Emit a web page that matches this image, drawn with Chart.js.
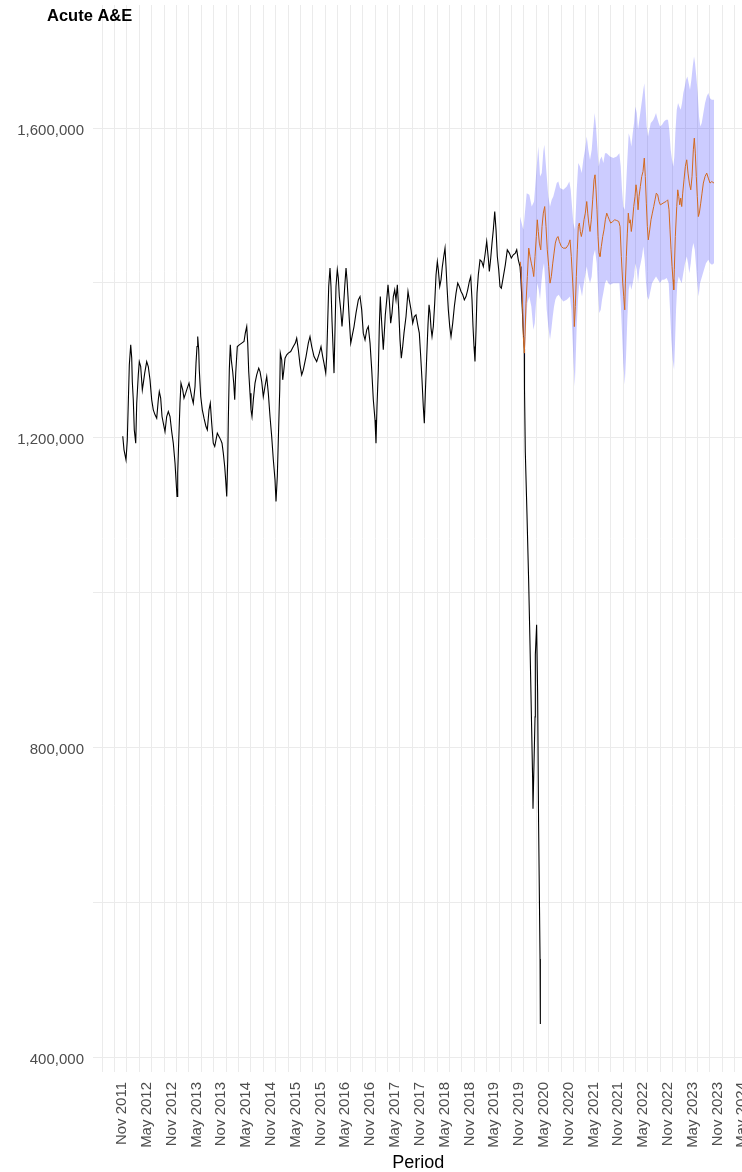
<!DOCTYPE html>
<html>
<head>
<meta charset="utf-8">
<title>Acute A&amp;E</title>
<script src="https://cdn.jsdelivr.net/npm/chart.js@4"></script>
<style>
  html, body { margin: 0; padding: 0; overflow: hidden; background: #ffffff; }
  #wrap { width: 780px; height: 1172px; }
</style>
</head>
<body>
<div id="wrap"><canvas id="chart" width="780" height="1172"></canvas></div>
<script>
// ---- Text -------------------------------------------------------------
const chartTitle = 'Acute A&E';
const xAxisTitle = 'Period';

// Labelled x ticks (every six months); unlabelled grid lines fall halfway between.
const tickLabels = [
  'Nov 2011', 'May 2012', 'Nov 2012', 'May 2013', 'Nov 2013', 'May 2014', 'Nov 2014',
  'May 2015', 'Nov 2015', 'May 2016', 'Nov 2016', 'May 2017', 'Nov 2017', 'May 2018',
  'Nov 2018', 'May 2019', 'Nov 2019', 'May 2020', 'Nov 2020', 'May 2021', 'Nov 2021',
  'May 2022', 'Nov 2022', 'May 2023', 'Nov 2023', 'May 2024'
];
const yLabelledTicks = [400000, 800000, 1200000, 1600000];
const yGridStep = 200000;

// ---- Data: [time in decimal years, attendances] -----------------------
const actual = [
  [2012.000,1202000],[2012.025,1184500],[2012.065,1171600],[2012.091,1197400],[2012.111,1244800],[2012.132,1294300],
  [2012.160,1320100],[2012.180,1303300],[2012.192,1272700],[2012.212,1249100],[2012.232,1210300],[2012.261,1193100],
  [2012.281,1244800],[2012.313,1281400],[2012.333,1298500],[2012.361,1292100],[2012.394,1262000],[2012.414,1270600],
  [2012.442,1283600],[2012.482,1298500],[2012.514,1292100],[2012.549,1274900],[2012.583,1249100],[2012.615,1236200],
  [2012.650,1229700],[2012.684,1225400],[2012.716,1249100],[2012.736,1259800],[2012.764,1251300],[2012.791,1227500],
  [2012.817,1219000],[2012.851,1208100],[2012.885,1227500],[2012.918,1234000],[2012.952,1227500],[2012.986,1208100],
  [2013.018,1193100],[2013.053,1167300],[2013.073,1145700],[2013.093,1124200],[2013.107,1154400],[2013.127,1195200],
  [2013.153,1244800],[2013.173,1270600],[2013.208,1262000],[2013.234,1251300],[2013.268,1257700],[2013.300,1264200],
  [2013.335,1270600],[2013.355,1264200],[2013.389,1253300],[2013.421,1244800],[2013.456,1266300],[2013.476,1296500],
  [2013.496,1317900],[2013.510,1330800],[2013.530,1313700],[2013.542,1287800],[2013.571,1253300],[2013.603,1236200],
  [2013.637,1225400],[2013.677,1214600],[2013.704,1210300],[2013.738,1236200],[2013.764,1244800],[2013.792,1219000],
  [2013.824,1193100],[2013.853,1188800],[2013.879,1197400],[2013.905,1206100],[2013.939,1201700],[2013.974,1197400],
  [2014.000,1193100],[2014.026,1180200],[2014.054,1162900],[2014.074,1145700],[2014.095,1124200],[2014.115,1171600],
  [2014.127,1223200],[2014.147,1287800],[2014.167,1320100],[2014.187,1300700],[2014.215,1285600],[2014.236,1270600],
  [2014.256,1249100],[2014.276,1283600],[2014.308,1317900],[2014.348,1320100],[2014.397,1322300],[2014.443,1324400],
  [2014.469,1335200],[2014.498,1343700],[2014.518,1322300],[2014.538,1285600],[2014.564,1257700],[2014.584,1236200],
  [2014.604,1227500],[2014.631,1249100],[2014.665,1270600],[2014.699,1281400],[2014.740,1290000],[2014.766,1285600],
  [2014.800,1272700],[2014.832,1253300],[2014.866,1266300],[2014.901,1279200],[2014.933,1257700],[2014.967,1227500],
  [2015.001,1201700],[2015.034,1171600],[2015.068,1145700],[2015.088,1117700],[2015.114,1150000],[2015.142,1214600],
  [2015.163,1262000],[2015.175,1309400],[2015.203,1300700],[2015.223,1274900],[2015.243,1285600],[2015.270,1302900],
  [2015.304,1307200],[2015.336,1309400],[2015.384,1311500],[2015.437,1317900],[2015.477,1322300],[2015.505,1328800],
  [2015.538,1313700],[2015.572,1294300],[2015.606,1281400],[2015.638,1287800],[2015.693,1305000],[2015.739,1322300],
  [2015.773,1330800],[2015.808,1317900],[2015.854,1305000],[2015.908,1298500],[2015.961,1309400],[2015.995,1317900],
  [2016.029,1305000],[2016.055,1296500],[2016.090,1283600],[2016.110,1305000],[2016.130,1350200],[2016.150,1395400],
  [2016.176,1419200],[2016.196,1395400],[2016.217,1350200],[2016.243,1307200],[2016.257,1283600],[2016.277,1339500],
  [2016.297,1395400],[2016.323,1417000],[2016.344,1406300],[2016.364,1382500],[2016.392,1365300],[2016.418,1343700],
  [2016.444,1365300],[2016.473,1395400],[2016.499,1419200],[2016.519,1404100],[2016.539,1382500],[2016.565,1352400],
  [2016.594,1322300],[2016.620,1330800],[2016.660,1343700],[2016.700,1361100],[2016.747,1378200],[2016.781,1382500],
  [2016.815,1365300],[2016.847,1335200],[2016.882,1326600],[2016.916,1339500],[2016.948,1343700],[2016.983,1322300],
  [2017.017,1287800],[2017.049,1249100],[2017.083,1223200],[2017.103,1193100],[2017.123,1240400],[2017.150,1287800],
  [2017.170,1343700],[2017.190,1382500],[2017.210,1356700],[2017.230,1335200],[2017.250,1313700],[2017.270,1335200],
  [2017.291,1358900],[2017.319,1378200],[2017.345,1397600],[2017.371,1378200],[2017.399,1348100],[2017.426,1361100],
  [2017.452,1382500],[2017.480,1391100],[2017.506,1378200],[2017.533,1397600],[2017.561,1365300],[2017.587,1326600],
  [2017.613,1302900],[2017.641,1317900],[2017.667,1335200],[2017.708,1356700],[2017.748,1389000],[2017.774,1378200],
  [2017.809,1365300],[2017.843,1348100],[2017.875,1356700],[2017.909,1358900],[2017.944,1345900],[2017.976,1335200],
  [2018.004,1305000],[2018.030,1274900],[2018.056,1240400],[2018.077,1219000],[2018.097,1257700],[2018.125,1305000],
  [2018.151,1345900],[2018.172,1371800],[2018.192,1361100],[2018.212,1341700],[2018.232,1330800],[2018.258,1343700],
  [2018.286,1374000],[2018.313,1410500],[2018.339,1427700],[2018.359,1417000],[2018.387,1395400],[2018.413,1404100],
  [2018.440,1421200],[2018.468,1434200],[2018.494,1445000],[2018.514,1421200],[2018.534,1395400],[2018.561,1365300],
  [2018.589,1343700],[2018.615,1330800],[2018.649,1348100],[2018.682,1369600],[2018.716,1386900],[2018.750,1399800],
  [2018.782,1395400],[2018.817,1389000],[2018.851,1384700],[2018.883,1378200],[2018.917,1382500],[2018.951,1391100],
  [2018.984,1401900],[2019.012,1408300],[2019.038,1378200],[2019.058,1343700],[2019.078,1317900],[2019.098,1298500],
  [2019.119,1339500],[2019.139,1386900],[2019.165,1410500],[2019.199,1429900],[2019.234,1427700],[2019.266,1421200],
  [2019.300,1436400],[2019.334,1453500],[2019.366,1432100],[2019.387,1414800],[2019.415,1432100],[2019.441,1451500],
  [2019.467,1468600],[2019.496,1492300],[2019.522,1468600],[2019.548,1434200],[2019.576,1417000],[2019.602,1395400],
  [2019.629,1393300],[2019.669,1408300],[2019.709,1423400],[2019.749,1442800],[2019.790,1438600],[2019.830,1432100],
  [2019.870,1436400],[2019.911,1438600],[2019.939,1442800],[2019.971,1429900],[2020.005,1421200],[2020.025,1404100],
  [2020.040,1382500],[2020.052,1365300],[2020.066,1343700],[2020.092,1314600],[2020.096,1262400],[2020.112,1181300],
  [2020.146,1100300],[2020.179,1016300],[2020.207,932200],[2020.233,846600],[2020.259,761500],[2020.267,720900],
  [2020.308,839600],[2020.314,919700],[2020.340,958500],[2020.360,871500],[2020.380,700700],[2020.409,526900],
  [2020.415,442900]
];

const forecast = [
  [2020.011,1427300],[2020.040,1399800],[2020.060,1365300],[2020.072,1330800],[2020.092,1309400],[2020.106,1330800],
  [2020.126,1374000],[2020.153,1408300],[2020.181,1445000],[2020.207,1434200],[2020.233,1425600],[2020.262,1417000],
  [2020.282,1408300],[2020.308,1434200],[2020.334,1460000],[2020.354,1481600],[2020.374,1466500],[2020.395,1451500],
  [2020.423,1442800],[2020.449,1472900],[2020.475,1490200],[2020.503,1498700],[2020.529,1472900],[2020.555,1442800],
  [2020.584,1421200],[2020.610,1399800],[2020.636,1408300],[2020.665,1425600],[2020.691,1438600],[2020.717,1451500],
  [2020.745,1457900],[2020.771,1460000],[2020.798,1453500],[2020.838,1447100],[2020.878,1445000],[2020.933,1445000],
  [2020.979,1449300],[2021.013,1455700],[2021.039,1434200],[2021.068,1399800],[2021.088,1374000],[2021.100,1343700],
  [2021.120,1369600],[2021.140,1408300],[2021.160,1442800],[2021.180,1472900],[2021.200,1477300],[2021.221,1466500],
  [2021.241,1460000],[2021.269,1468600],[2021.295,1481600],[2021.321,1490200],[2021.350,1505200],[2021.370,1490200],
  [2021.390,1477300],[2021.416,1466500],[2021.442,1481600],[2021.470,1507400],[2021.497,1533200],[2021.517,1539700],
  [2021.537,1520300],[2021.557,1494500],[2021.577,1460000],[2021.597,1438600],[2021.617,1434200],[2021.644,1447100],
  [2021.672,1460000],[2021.698,1468600],[2021.725,1481600],[2021.753,1490200],[2021.779,1485800],[2021.805,1481600],
  [2021.833,1477300],[2021.874,1479400],[2021.914,1481600],[2021.954,1480700],[2021.995,1479400],[2022.021,1472900],
  [2022.047,1434200],[2022.075,1399800],[2022.096,1382500],[2022.116,1365300],[2022.128,1399800],[2022.148,1434200],
  [2022.168,1464400],[2022.188,1490200],[2022.208,1477300],[2022.228,1481600],[2022.248,1466500],[2022.269,1477300],
  [2022.297,1498700],[2022.323,1511700],[2022.343,1526800],[2022.364,1516000],[2022.384,1494500],[2022.404,1511700],
  [2022.430,1524600],[2022.458,1537500],[2022.484,1543900],[2022.510,1561300],[2022.530,1537500],[2022.551,1503100],
  [2022.571,1472900],[2022.591,1455700],[2022.619,1468600],[2022.645,1481600],[2022.672,1490200],[2022.700,1498700],
  [2022.726,1507400],[2022.752,1516000],[2022.780,1513900],[2022.807,1505200],[2022.833,1500900],[2022.867,1502200],
  [2022.908,1503900],[2022.948,1505200],[2022.982,1507400],[2023.008,1494500],[2023.028,1468600],[2023.049,1442800],
  [2023.069,1421200],[2023.089,1404100],[2023.103,1391100],[2023.115,1417000],[2023.135,1460000],[2023.164,1498700],
  [2023.184,1520300],[2023.204,1511700],[2023.224,1500900],[2023.244,1509600],[2023.264,1498700],[2023.284,1516000],
  [2023.310,1533200],[2023.337,1550400],[2023.365,1559100],[2023.391,1541900],[2023.417,1529000],[2023.446,1520300],
  [2023.472,1537500],[2023.498,1572000],[2023.518,1587100],[2023.538,1567700],[2023.558,1537500],[2023.578,1511700],
  [2023.599,1485800],[2023.619,1490200],[2023.647,1503100],[2023.673,1516000],[2023.700,1529000],[2023.734,1537500],
  [2023.768,1541900],[2023.800,1535400],[2023.834,1529000],[2023.869,1531000],[2023.915,1529000]
];

const intervalUpper = [
  [2020.005,1485800],[2020.072,1468600],[2020.140,1516000],[2020.193,1513900],[2020.241,1498700],[2020.288,1505200],
  [2020.342,1550400],[2020.374,1576200],[2020.409,1537500],[2020.443,1541900],[2020.475,1569800],[2020.495,1578400],
  [2020.529,1550400],[2020.576,1511700],[2020.610,1498700],[2020.644,1507400],[2020.676,1511700],[2020.711,1520300],
  [2020.745,1529000],[2020.777,1531000],[2020.812,1522500],[2020.878,1520300],[2020.947,1524600],[2020.999,1531000],
  [2021.027,1520300],[2021.080,1477300],[2021.114,1468600],[2021.148,1520300],[2021.180,1554800],[2021.214,1550400],
  [2021.248,1541900],[2021.281,1559100],[2021.315,1572000],[2021.350,1589200],[2021.382,1572000],[2021.416,1559100],
  [2021.450,1572000],[2021.481,1597800],[2021.510,1619400],[2021.537,1602100],[2021.563,1576200],[2021.592,1550400],
  [2021.617,1559100],[2021.651,1563300],[2021.684,1554800],[2021.718,1567700],[2021.753,1567700],[2021.819,1563300],
  [2021.886,1561300],[2021.954,1563300],[2022.007,1567700],[2022.035,1550400],[2022.061,1520300],[2022.087,1498700],
  [2022.116,1494500],[2022.142,1524600],[2022.168,1559100],[2022.196,1593500],[2022.223,1587100],[2022.248,1576200],
  [2022.277,1593500],[2022.303,1606500],[2022.329,1627900],[2022.358,1619400],[2022.384,1597800],[2022.410,1610700],
  [2022.437,1623600],[2022.464,1636600],[2022.490,1649500],[2022.510,1658100],[2022.530,1636600],[2022.558,1602100],
  [2022.585,1589200],[2022.611,1597800],[2022.640,1606500],[2022.666,1608500],[2022.692,1610700],[2022.720,1615000],
  [2022.746,1619400],[2022.772,1612900],[2022.800,1606500],[2022.827,1602100],[2022.867,1604300],[2022.908,1608500],
  [2022.948,1610700],[2022.988,1610700],[2023.014,1597800],[2023.042,1572000],[2023.069,1559100],[2023.095,1550400],
  [2023.115,1563300],[2023.135,1593500],[2023.164,1623600],[2023.190,1632300],[2023.216,1627900],[2023.244,1623600],
  [2023.270,1632300],[2023.296,1645200],[2023.325,1653700],[2023.351,1662400],[2023.377,1666600],[2023.405,1658100],
  [2023.431,1649500],[2023.458,1662400],[2023.486,1679600],[2023.512,1692500],[2023.532,1684000],[2023.558,1666600],
  [2023.586,1645200],[2023.613,1615000],[2023.639,1602100],[2023.667,1606500],[2023.700,1619400],[2023.734,1632300],
  [2023.768,1640800],[2023.800,1645200],[2023.834,1638700],[2023.869,1636600],[2023.915,1636600]
];

const intervalLower = [
  [2020.005,1404100],[2020.040,1374000],[2020.072,1330800],[2020.100,1300000],[2020.126,1343700],[2020.153,1374000],
  [2020.193,1382500],[2020.233,1369600],[2020.274,1339500],[2020.302,1348100],[2020.328,1374000],[2020.354,1399800],
  [2020.382,1391100],[2020.409,1378200],[2020.435,1399800],[2020.463,1417000],[2020.489,1425600],[2020.515,1399800],
  [2020.543,1365300],[2020.576,1343700],[2020.610,1326600],[2020.636,1339500],[2020.665,1356700],[2020.691,1369600],
  [2020.717,1378200],[2020.745,1382500],[2020.785,1384700],[2020.826,1380400],[2020.878,1376000],[2020.947,1378200],
  [2021.013,1382500],[2021.039,1365300],[2021.068,1322300],[2021.088,1292100],[2021.109,1266300],[2021.129,1305000],
  [2021.148,1343700],[2021.174,1378200],[2021.200,1399800],[2021.229,1391100],[2021.255,1382500],[2021.281,1395400],
  [2021.315,1408300],[2021.350,1421200],[2021.382,1408300],[2021.416,1399800],[2021.450,1408300],[2021.481,1434200],
  [2021.517,1442800],[2021.551,1425600],[2021.577,1391100],[2021.603,1361100],[2021.632,1365300],[2021.658,1378200],
  [2021.684,1386900],[2021.718,1399800],[2021.753,1404100],[2021.785,1399800],[2021.819,1397600],[2021.886,1399800],
  [2021.954,1399800],[2022.007,1399800],[2022.035,1374000],[2022.061,1335200],[2022.087,1296500],[2022.116,1268500],
  [2022.142,1305000],[2022.168,1352400],[2022.196,1391100],[2022.223,1399800],[2022.248,1391100],[2022.277,1399800],
  [2022.303,1408300],[2022.329,1425600],[2022.358,1417000],[2022.384,1399800],[2022.410,1417000],[2022.437,1425600],
  [2022.464,1434200],[2022.490,1447100],[2022.518,1429900],[2022.545,1399800],[2022.571,1382500],[2022.599,1378200],
  [2022.625,1386900],[2022.666,1399800],[2022.706,1404100],[2022.746,1408300],[2022.787,1404100],[2022.827,1399800],
  [2022.867,1404100],[2022.908,1404100],[2022.962,1406300],[2023.002,1399800],[2023.028,1365300],[2023.055,1326600],
  [2023.083,1300700],[2023.110,1287800],[2023.129,1322300],[2023.150,1365300],[2023.176,1399800],[2023.204,1408300],
  [2023.230,1404100],[2023.264,1399800],[2023.296,1412700],[2023.331,1425600],[2023.365,1434200],[2023.391,1425600],
  [2023.417,1412700],[2023.446,1425600],[2023.472,1442800],[2023.498,1451500],[2023.527,1442800],[2023.553,1421200],
  [2023.578,1399800],[2023.605,1382500],[2023.633,1399800],[2023.673,1408300],[2023.713,1417000],[2023.753,1425600],
  [2023.800,1429900],[2023.834,1425600],[2023.874,1423400],[2023.915,1425600]
];

// ---- Helpers ----------------------------------------------------------
const MONTH_INDEX = { Jan: 0, Feb: 1, Mar: 2, Apr: 3, May: 4, Jun: 5, Jul: 6, Aug: 7, Sep: 8, Oct: 9, Nov: 10, Dec: 11 };
const labelYears = tickLabels.map(s => {
  const [m, y] = s.split(' ');
  return Number(y) + MONTH_INDEX[m] / 12;
});
// Grid every quarter, starting one quarter before the first labelled tick.
const xGrid = [];
for (let k = -1; k <= 2 * (tickLabels.length - 1); k++) xGrid.push(labelYears[0] + k * 0.25);

const toXY = pairs => pairs.map(([x, y]) => ({ x, y }));

const GRID_COLOUR = '#ebebeb';
const TICK_COLOUR = '#4d4d4d';

Chart.defaults.font.family = "'Liberation Sans', Arial, Helvetica, sans-serif";

// Panel title drawn over the top-left of the plot.
const panelTitle = {
  id: 'panelTitle',
  afterDraw(chart) {
    const ctx = chart.ctx;
    ctx.save();
    ctx.font = "bold 16.5px 'Liberation Sans', Arial, sans-serif";
    ctx.fillStyle = '#000000';
    ctx.textAlign = 'left';
    ctx.textBaseline = 'alphabetic';
    ctx.fillText(chartTitle, 47, 21);
    ctx.restore();
  }
};

new Chart(document.getElementById('chart'), {
  type: 'line',
  data: {
    datasets: [
      {
        label: 'Forecast',
        data: toXY(forecast),
        borderColor: '#d2691e',
        borderWidth: 1,
        pointRadius: 0,
        tension: 0,
        fill: false
      },
      {
        label: 'Upper',
        data: toXY(intervalUpper),
        borderColor: 'rgba(0,0,0,0)',
        borderWidth: 0,
        pointRadius: 0,
        tension: 0,
        backgroundColor: 'rgba(0,0,255,0.2)',
        fill: '+1'
      },
      {
        label: 'Lower',
        data: toXY(intervalLower),
        borderColor: 'rgba(0,0,0,0)',
        borderWidth: 0,
        pointRadius: 0,
        tension: 0,
        fill: false
      },
      {
        label: 'Actual',
        data: toXY(actual),
        borderColor: '#000000',
        borderWidth: 1.1,
        pointRadius: 0,
        tension: 0,
        fill: false
      }
    ]
  },
  options: {
    responsive: false,
    devicePixelRatio: 1,
    animation: false,
    events: [],
    layout: { padding: { left: 0, top: 5, right: 36.4, bottom: 0 } },
    plugins: {
      legend: { display: false },
      tooltip: { enabled: false }
    },
    scales: {
      x: {
        type: 'linear',
        min: 2011.400,
        max: 2024.511,
        afterBuildTicks: s => { s.ticks = xGrid.map(v => ({ value: v })); },
        afterFit: s => { s.height = 100; s.paddingLeft = 0; s.paddingRight = 0; },
        grid: { color: GRID_COLOUR, lineWidth: 1, drawTicks: false },
        border: { display: false },
        ticks: {
          autoSkip: false,
          minRotation: 90,
          maxRotation: 90,
          padding: 10,
          labelOffset: 7.5,
          color: TICK_COLOUR,
          font: { size: 15, lineHeight: 1 },
          callback: value => {
            const i = labelYears.findIndex(v => Math.abs(v - value) < 1e-6);
            return i >= 0 ? tickLabels[i] : '';
          }
        },
        title: {
          display: true,
          text: xAxisTitle,
          color: '#000000',
          font: { size: 18, lineHeight: 1 },
          padding: { top: 0, bottom: 0 }
        }
      },
      y: {
        min: 381000,
        max: 1759000,
        afterBuildTicks: s => {
          const t = [];
          for (let v = yLabelledTicks[0]; v <= yLabelledTicks[yLabelledTicks.length - 1]; v += yGridStep) t.push({ value: v });
          s.ticks = t;
        },
        afterFit: s => { s.width = 93; s.paddingTop = 0; s.paddingBottom = 0; },
        grid: { color: GRID_COLOUR, lineWidth: 1, drawTicks: false },
        border: { display: false },
        ticks: {
          padding: 9,
          labelOffset: 2.5,
          color: TICK_COLOUR,
          font: { size: 15 },
          callback: value => yLabelledTicks.includes(value) ? value.toLocaleString('en-US') : ''
        }
      }
    }
  },
  plugins: [panelTitle]
});
</script>
</body>
</html>
